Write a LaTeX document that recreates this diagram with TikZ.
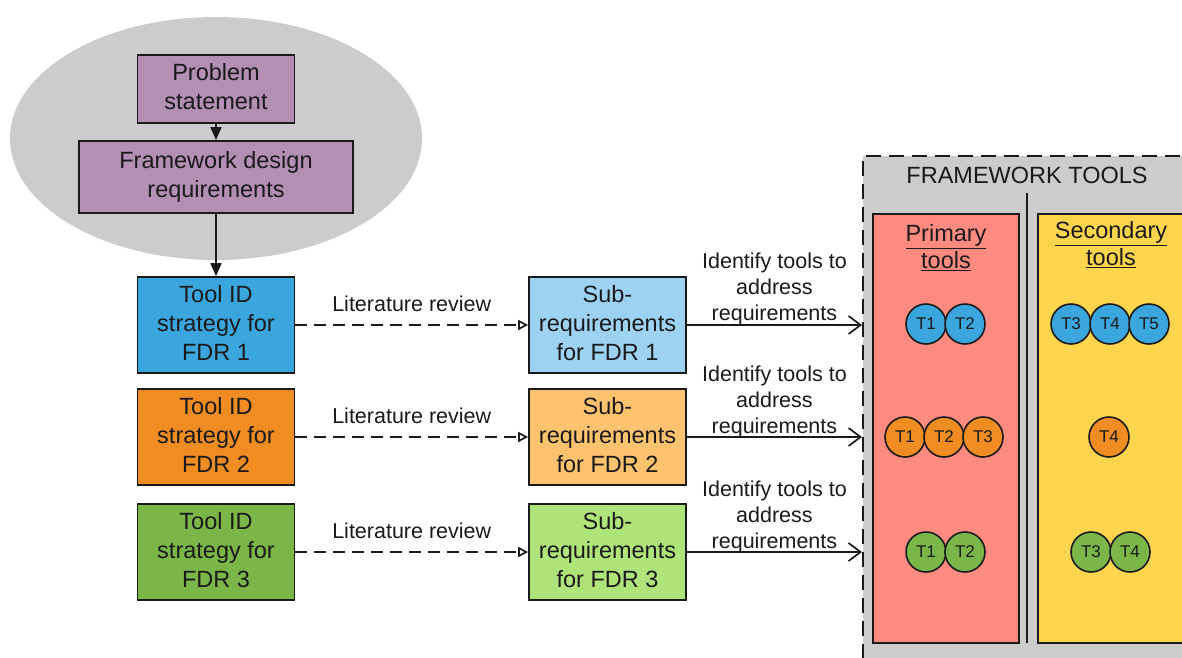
\documentclass[tikz,border=0pt]{standalone}
\usepackage{fontspec}
\setmainfont{Liberation Sans}
\usetikzlibrary{arrows.meta,shapes.geometric}

\definecolor{purplebox}{RGB}{180,143,180}
\definecolor{haze}{RGB}{204,204,204}
\definecolor{blueA}{RGB}{58,166,221}
\definecolor{orangeA}{RGB}{239,140,34}
\definecolor{greenA}{RGB}{122,182,72}
\definecolor{blueB}{RGB}{157,210,242}
\definecolor{orangeB}{RGB}{255,195,112}
\definecolor{greenB}{RGB}{174,228,122}
\definecolor{salmon}{RGB}{255,139,128}
\definecolor{sunny}{RGB}{255,213,77}
\definecolor{ink}{RGB}{26,26,26}

\begin{document}
\begin{tikzpicture}[x=1pt,y=-1pt,
  box/.style={draw=ink, line width=1.7pt, minimum width=157pt, minimum height=96pt,
    inner sep=0pt, text depth=5pt, align=center, font=\fontsize{23.5}{29}\selectfont, text=ink},
  lbl/.style={font=\fontsize{21.5}{26}\selectfont, inner sep=0pt, align=center, text=ink},
  tool/.style={circle, draw=ink, line width=1.6pt, minimum size=40pt, inner sep=0pt,
    font=\fontsize{17}{19}\selectfont, text=ink},
  lit/.style={ink, line width=1.7pt, dash pattern=on 11.5pt off 7.5pt,
    -{Triangle[open, length=10pt, width=10pt]}},
  ident/.style={ink, line width=1.7pt,
    -{Straight Barb[length=12pt, width=18pt, line width=1.7pt]}},
  flow/.style={ink, line width=1.7pt, -{Triangle[length=13pt, width=11pt]}},
  panel/.style={draw=ink, line width=1.6pt, anchor=north west, inner sep=0pt},
  head/.style={text=ink, align=center, inner sep=0pt, font=\fontsize{23.5}{27}\selectfont},
]
\useasboundingbox (0,0) rectangle (1182,657);
\clip (0,0) rectangle (1182,657);
\fill[white] (0,0) rectangle (1182,657);

% problem definition group
\node[ellipse, fill=haze, minimum width=412pt, minimum height=243pt, inner sep=0pt]
  (group) at (216,138.5) {};
\node[box, fill=purplebox, minimum width=157pt, minimum height=68pt]
  (prob) at (216,89) {Problem\\statement};
\node[box, fill=purplebox, minimum width=274pt, minimum height=72pt]
  (fdr) at (216,177) {Framework design\\requirements};

% tool identification strategies
\node[box, fill=blueA]   (t1) at (216,325) {Tool ID\\strategy for\\FDR 1};
\node[box, fill=orangeA] (t2) at (216,437)   {Tool ID\\strategy for\\FDR 2};
\node[box, fill=greenA]  (t3) at (216,552)   {Tool ID\\strategy for\\FDR 3};

% sub-requirements
\node[box, fill=blueB]   (s1) at (607.5,325) {Sub-\\requirements\\for FDR 1};
\node[box, fill=orangeB] (s2) at (607.5,437)   {Sub-\\requirements\\for FDR 2};
\node[box, fill=greenB]  (s3) at (607.5,552)   {Sub-\\requirements\\for FDR 3};

% framework tools container
\node[draw=ink, fill=haze, line width=1.8pt, dash pattern=on 15pt off 8pt,
  anchor=north west, minimum width=360pt, minimum height=540pt, inner sep=0pt]
  (fw) at (862,155) {};
\node[text=ink, inner sep=0pt, font=\fontsize{23.5}{28}\selectfont]
  (fwt) at (1027,175) {FRAMEWORK TOOLS};
\coordinate (divtop) at (1027,193);
\coordinate (divbot) at (1027,643);
\draw[ink, line width=1.5pt] (divtop) -- (divbot);
\node[panel, fill=salmon, minimum width=146pt, minimum height=429pt] (prim) at (872,213) {};
\node[panel, fill=sunny, minimum width=175pt, minimum height=429pt] (sec) at (1037,213) {};
\node[head] (primt) at (946,248) {\underline{Primary}\\\underline{tools}};
\node[head] (sect) at (1111,245) {\underline{Secondary}\\\underline{tools}};

% tools per requirement
\node[tool, fill=blueA] (p1a) at (926,324) {T1};
\node[tool, fill=blueA] (p1b) at (965,324) {T2};
\node[tool, fill=blueA] (q1a) at (1071,324) {T3};
\node[tool, fill=blueA] (q1b) at (1110,324) {T4};
\node[tool, fill=blueA] (q1c) at (1149,324) {T5};

\node[tool, fill=orangeA] (p2a) at (905,437) {T1};
\node[tool, fill=orangeA] (p2b) at (944,437) {T2};
\node[tool, fill=orangeA] (p2c) at (983,437) {T3};
\node[tool, fill=orangeA] (q2a) at (1109,437) {T4};

\node[tool, fill=greenA] (p3a) at (926,552) {T1};
\node[tool, fill=greenA] (p3b) at (965,552) {T2};
\node[tool, fill=greenA] (q3a) at (1091,552) {T3};
\node[tool, fill=greenA] (q3b) at (1130,552) {T4};

% connectors
\draw[flow] (prob) -- (fdr);
\draw[flow] (fdr) -- (t1);

\draw[lit] (t1) -- node[lbl, above=12.5pt] {Literature review} (s1);
\draw[lit] (t2) -- node[lbl, above=12.5pt] {Literature review} (s2);
\draw[lit] (t3) -- node[lbl, above=12.5pt] {Literature review} (s3);

\draw[ident] (s1.east) -- node[lbl, above=-1pt] {Identify tools to\\address\\requirements} (s1.east -| fw.west);
\draw[ident] (s2.east) -- node[lbl, above=-2pt] {Identify tools to\\address\\requirements} (s2.east -| fw.west);
\draw[ident] (s3.east) -- node[lbl, above=-2pt] {Identify tools to\\address\\requirements} (s3.east -| fw.west);
\end{tikzpicture}
\end{document}
